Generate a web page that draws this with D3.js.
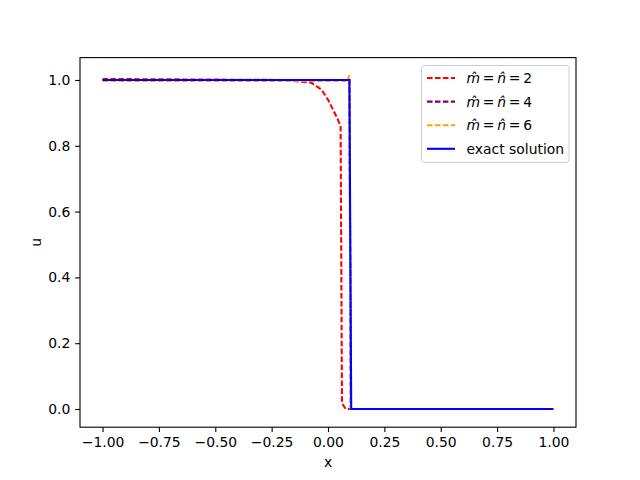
<!DOCTYPE html>
<html><head><meta charset="utf-8">
<script src="https://cdn.jsdelivr.net/npm/d3@7"></script>
<style>body{margin:0;background:#fff}svg{display:block;font-family:"DejaVu Sans",sans-serif}</style>
</head><body><svg id="c" width="640" height="480"></svg>
<script>
const seriesNames = ["2", "4", "6", "exact solution"];
const seriesColors = ["red", "purple", "orange", "blue"];
const redX = [-1, -0.2, -0.075, -0.028, 0.001, 0.023, 0.045, 0.056, 0.062, 0.078, 0.2, 1];
const redY = [1.003, 1.0, 0.992, 0.970, 0.939, 0.909, 0.878, 0.858, 0.018, 0.0, 0.0, 0.0];
const purpleX = [-1, 0.095, 0.101, 1];
const purpleY = [1.0, 1.0, 0.0, 0.0];
const orangeX = [-1, 0.085, 0.095, 0.101, 1];
const orangeY = [0.997, 0.997, 1.015, 0.0, 0.0];
const exactX = [-1, 0.095, 0.103, 1];
const exactY = [1.0, 1.0, 0.0, 0.0];
const xTicks = [-1, -0.75, -0.5, -0.25, 0, 0.25, 0.5, 0.75, 1];
const yTicks = [0, 0.2, 0.4, 0.6, 0.8, 1.0];

const svg = d3.select("#c");
const L = 80, R = 576, T = 57.6, B = 427.2;
const x = d3.scaleLinear().domain([-1.1, 1.1]).range([L, R]);
const y = d3.scaleLinear().domain([-0.0553, 1.0680]).range([B, T]);

const series = [
  {xs: redX, ys: redY, dash: "5.55,2.4"},
  {xs: purpleX, ys: purpleY, dash: "5.55,2.4"},
  {xs: orangeX, ys: orangeY, dash: "5.55,2.4"},
  {xs: exactX, ys: exactY, dash: null}
];
const line = d3.line().x(d => x(d[0])).y(d => y(d[1]));
const g = svg.append("g");
series.forEach((s, i) => {
  const pts = s.xs.map((v, j) => [v, s.ys[j]]);
  const p = g.append("path").attr("d", line(pts)).attr("fill", "none")
    .attr("stroke", seriesColors[i]).attr("stroke-width", 2.08);
  if (s.dash) p.attr("stroke-dasharray", s.dash);
});

const fs = 13.9;
const xa = svg.append("g").attr("transform", `translate(0,${B})`)
  .call(d3.axisBottom(x).tickValues(xTicks).tickFormat(d3.format(".2f")).tickSize(4.86).tickPadding(4.9));
const ya = svg.append("g").attr("transform", `translate(${L},0)`)
  .call(d3.axisLeft(y).tickValues(yTicks).tickFormat(d3.format(".1f")).tickSize(4.86).tickPadding(4.9));
[xa, ya].forEach(a => {
  a.select(".domain").remove();
  a.selectAll("line").attr("stroke", "#000").attr("stroke-width", 1.1);
  a.selectAll("text").attr("font-size", fs).attr("font-family", "DejaVu Sans").attr("fill", "#000");
});
xa.selectAll("text").text(d => d3.format(".2f")(d).replace("-", "\u2212"));
ya.selectAll("text").text(d => d3.format(".1f")(d).replace("-", "\u2212"));

svg.append("rect").attr("x", L).attr("y", T).attr("width", R - L).attr("height", B - T)
  .attr("fill", "none").attr("stroke", "#000").attr("stroke-width", 1.1);

svg.append("text").attr("x", (L + R) / 2).attr("y", 467).attr("text-anchor", "middle")
  .attr("font-size", fs).text("x");
svg.append("text").attr("transform", `translate(41,${(T + B) / 2}) rotate(-90)`).attr("text-anchor", "middle")
  .attr("font-size", fs).text("u");

// legend
const lg = svg.append("g");
lg.append("rect").attr("x", 421.5).attr("y", 65.5).attr("width", 147.5).attr("height", 97)
  .attr("rx", 3).attr("fill", "#fff").attr("fill-opacity", 0.8).attr("stroke", "#ccc").attr("stroke-width", 1);
seriesNames.forEach((n, i) => {
  const yy = 78 + i * 23.6;
  const l = lg.append("line").attr("x1", 427).attr("x2", 455).attr("y1", yy).attr("y2", yy)
    .attr("stroke", seriesColors[i]).attr("stroke-width", 2.08);
  if (i < 3) l.attr("stroke-dasharray", "5.55,2.4");
  const t = lg.append("text").attr("x", 466.5).attr("y", yy + 5).attr("font-size", fs);
  if (i < 3) {
    t.append("tspan").attr("font-style", "italic").text("m\u0302");
    t.append("tspan").text("\u2009=\u2009");
    t.append("tspan").attr("font-style", "italic").text("n\u0302");
    t.append("tspan").text("\u2009=\u2009" + n);
  } else {
    t.text(n);
  }
});
</script></body></html>
